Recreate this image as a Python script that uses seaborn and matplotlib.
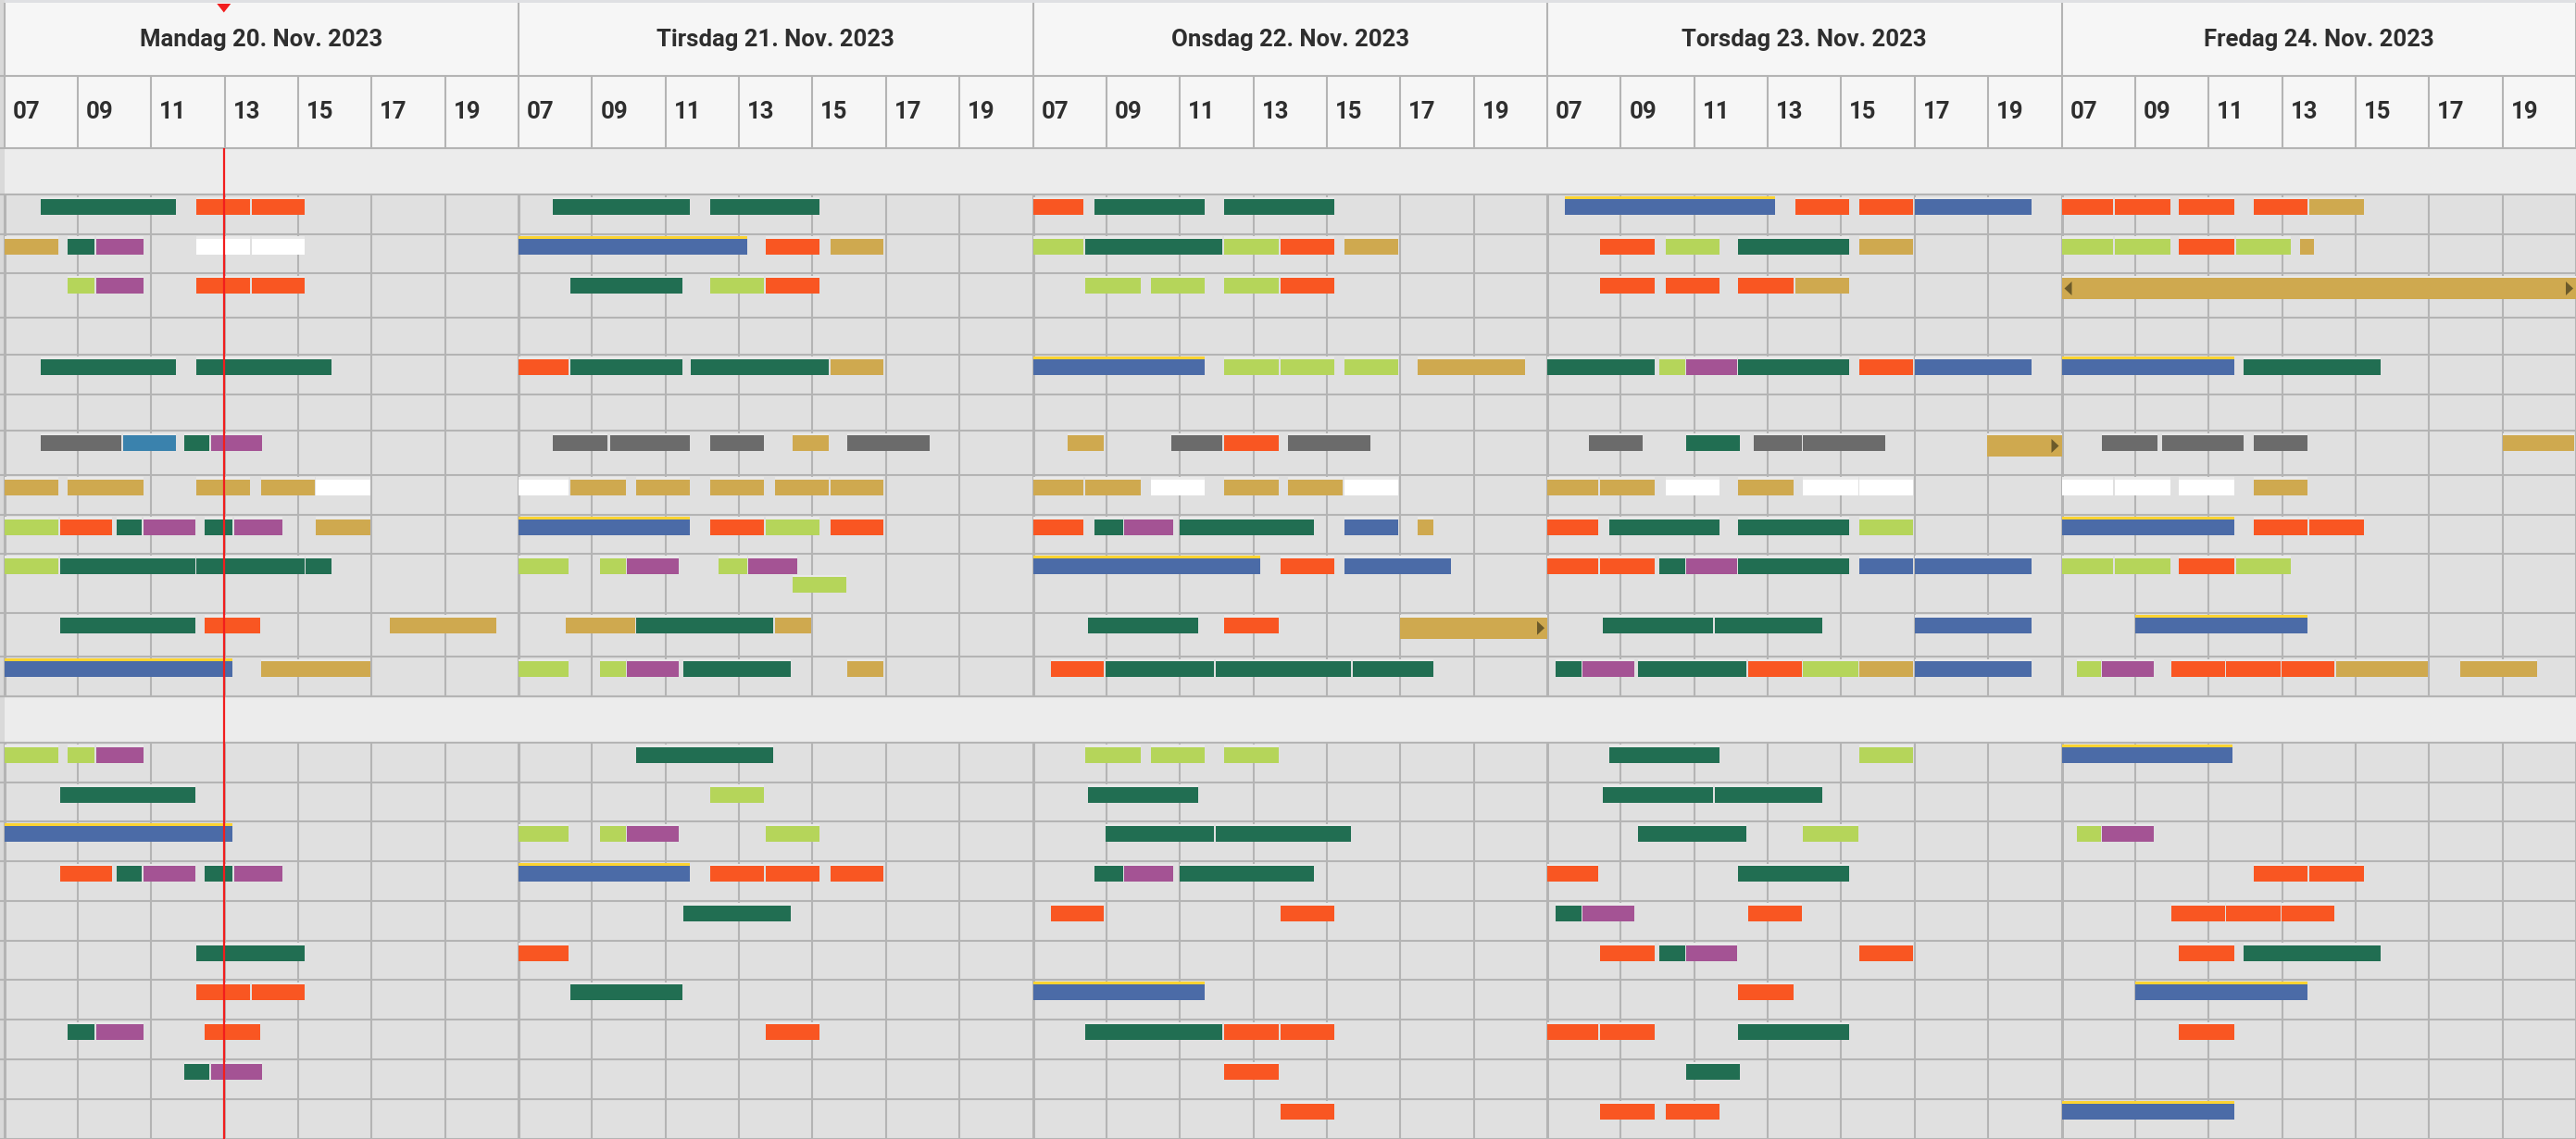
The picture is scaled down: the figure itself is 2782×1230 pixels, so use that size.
import pandas as pd
import seaborn as sns
import matplotlib.pyplot as plt
from matplotlib.patches import Polygon

sns.set_theme(style="white")
plt.rcParams['font.family'] = ['Roboto', 'DejaVu Sans']

# header texts
DAYS = ["Mandag 20. Nov. 2023", "Tirsdag 21. Nov. 2023", "Onsdag 22. Nov. 2023",
        "Torsdag 23. Nov. 2023", "Fredag 24. Nov. 2023"]
HOURS = ["07", "09", "11", "13", "15", "17", "19"]
DAY_START, DAY_END = 7, 21
NOW_DAY, NOW_HOUR = 0, 12.98

# bookings per day: (row, start, end, type[, lane])
# rows 0-11 first group, 12-21 second group
# G green, O orange, Y gold, P purple, L light green, B blue, F blue flagged,
# K gray, S steel blue, W white, R gold running on, D gold running both ways
MANDAG = [
    (0, 8.0, 11.67, 'G'), (0, 12.22, 13.69, 'O'), (0, 13.73, 15.19, 'O'),
    (1, 7.0, 8.47, 'Y'), (1, 8.73, 9.45, 'G'), (1, 9.5, 10.8, 'P'), (1, 12.22, 13.69, 'W'), (1, 13.73, 15.19, 'W'),
    (2, 8.73, 9.45, 'L'), (2, 9.5, 10.8, 'P'), (2, 12.22, 13.69, 'O'), (2, 13.73, 15.19, 'O'),
    (4, 8.0, 11.67, 'G'), (4, 12.22, 15.92, 'G'),
    (6, 8.0, 10.18, 'K'), (6, 10.24, 11.67, 'S'), (6, 11.9, 12.57, 'G'), (6, 12.63, 14.03, 'P'),
    (7, 7.0, 8.47, 'Y'), (7, 8.73, 10.8, 'Y'), (7, 12.22, 13.69, 'Y'), (7, 13.99, 15.45, 'Y'), (7, 15.49, 16.96, 'W'),
    (8, 7.0, 8.47, 'L'), (8, 8.53, 9.93, 'O'), (8, 10.06, 10.74, 'G'), (8, 10.79, 12.2, 'P'),
    (8, 12.45, 13.22, 'G'), (8, 13.26, 14.58, 'P'), (8, 15.49, 16.96, 'Y'),
    (9, 7.0, 8.47, 'L'), (9, 8.53, 12.2, 'G'), (9, 12.22, 15.19, 'G'), (9, 15.21, 15.92, 'G'),
    (10, 8.53, 12.2, 'G'), (10, 12.45, 13.96, 'O'), (10, 17.5, 20.4, 'Y'),
    (11, 7.0, 13.22, 'F'), (11, 13.99, 16.96, 'Y'),
    (12, 7.0, 8.47, 'L'), (12, 8.73, 9.45, 'L'), (12, 9.5, 10.8, 'P'),
    (13, 8.53, 12.2, 'G'),
    (14, 7.0, 13.22, 'F'),
    (15, 8.53, 9.93, 'O'), (15, 10.06, 10.74, 'G'), (15, 10.79, 12.2, 'P'), (15, 12.45, 13.22, 'G'), (15, 13.26, 14.58, 'P'),
    (17, 12.22, 15.19, 'G'),
    (18, 12.22, 13.69, 'O'), (18, 13.73, 15.19, 'O'),
    (19, 8.73, 9.45, 'G'), (19, 9.5, 10.8, 'P'), (19, 12.45, 13.96, 'O'),
    (20, 11.9, 12.57, 'G'), (20, 12.63, 14.03, 'P'),
]
TIRSDAG = [
    (0, 7.92, 11.65, 'G'), (0, 12.21, 15.19, 'G'),
    (1, 7.0, 13.22, 'F'), (1, 13.72, 15.19, 'O'), (1, 15.5, 16.93, 'Y'),
    (2, 8.4, 11.45, 'G'), (2, 12.21, 13.67, 'L'), (2, 13.72, 15.19, 'O'),
    (4, 7.0, 8.35, 'O'), (4, 8.4, 11.45, 'G'), (4, 11.7, 15.44, 'G'), (4, 15.5, 16.93, 'Y'),
    (6, 7.92, 9.43, 'K'), (6, 9.49, 11.65, 'K'), (6, 12.21, 13.67, 'K'), (6, 14.46, 15.44, 'Y'), (6, 15.94, 18.19, 'K'),
    (7, 7.0, 8.35, 'W'), (7, 8.4, 9.92, 'Y'), (7, 10.19, 11.65, 'Y'), (7, 12.21, 13.67, 'Y'),
    (7, 13.97, 15.44, 'Y'), (7, 15.5, 16.93, 'Y'),
    (8, 7.0, 11.65, 'F'), (8, 12.21, 13.67, 'O'), (8, 13.72, 15.19, 'L'), (8, 15.5, 16.93, 'O'),
    (9, 7.0, 8.35, 'L'), (9, 9.21, 9.92, 'L'), (9, 9.94, 11.35, 'P'), (9, 12.44, 13.22, 'L'),
    (9, 13.25, 14.59, 'P'), (9, 14.46, 15.92, 'L', 1),
    (10, 8.28, 10.17, 'Y'), (10, 10.19, 13.93, 'G'), (10, 13.97, 14.96, 'Y'),
    (11, 7.0, 8.35, 'L'), (11, 9.21, 9.92, 'L'), (11, 9.94, 11.35, 'P'), (11, 11.48, 14.4, 'G'), (11, 15.94, 16.93, 'Y'),
    (12, 10.19, 13.93, 'G'),
    (13, 12.21, 13.67, 'L'),
    (14, 7.0, 8.35, 'L'), (14, 9.21, 9.92, 'L'), (14, 9.94, 11.35, 'P'), (14, 13.72, 15.19, 'L'),
    (15, 7.0, 11.65, 'F'), (15, 12.21, 13.67, 'O'), (15, 13.72, 15.19, 'O'), (15, 15.5, 16.93, 'O'),
    (16, 11.48, 14.4, 'G'),
    (17, 7.0, 8.35, 'O'),
    (18, 8.4, 11.45, 'G'),
    (19, 13.72, 15.19, 'O'),
]
ONSDAG = [
    (0, 7.02, 8.37, 'O'), (0, 8.67, 11.68, 'G'), (0, 12.2, 15.2, 'G'),
    (1, 7.0, 8.37, 'L'), (1, 8.43, 12.15, 'G'), (1, 12.2, 13.69, 'L'), (1, 13.73, 15.2, 'O'), (1, 15.47, 16.94, 'Y'),
    (2, 8.43, 9.94, 'L'), (2, 10.21, 11.68, 'L'), (2, 12.2, 13.69, 'L'), (2, 13.73, 15.2, 'O'),
    (4, 7.0, 11.68, 'F'), (4, 12.2, 13.69, 'L'), (4, 13.73, 15.2, 'L'), (4, 15.47, 16.94, 'L'), (4, 17.46, 20.4, 'Y'),
    (6, 7.95, 8.93, 'Y'), (6, 10.77, 12.15, 'K'), (6, 12.2, 13.69, 'O'), (6, 13.94, 16.18, 'K'),
    (7, 7.0, 8.37, 'Y'), (7, 8.43, 9.94, 'Y'), (7, 10.21, 11.68, 'W'), (7, 12.2, 13.69, 'Y'),
    (7, 13.94, 15.44, 'Y'), (7, 15.47, 16.94, 'W'),
    (8, 7.0, 8.37, 'O'), (8, 8.67, 9.46, 'G'), (8, 9.48, 10.82, 'P'), (8, 10.99, 14.64, 'G'),
    (8, 15.47, 16.94, 'B'), (8, 17.46, 17.91, 'Y'),
    (9, 7.0, 13.18, 'F'), (9, 13.73, 15.2, 'O'), (9, 15.47, 18.39, 'B'),
    (10, 8.5, 11.49, 'G'), (10, 12.2, 13.69, 'O'), (10, 17.0, 21.0, 'R'),
    (11, 7.49, 8.93, 'O'), (11, 8.98, 11.92, 'G'), (11, 11.98, 15.65, 'G'), (11, 15.7, 17.91, 'G'),
    (12, 8.43, 9.94, 'L'), (12, 10.21, 11.68, 'L'), (12, 12.2, 13.69, 'L'),
    (13, 8.5, 11.49, 'G'),
    (14, 8.98, 11.92, 'G'), (14, 11.98, 15.65, 'G'),
    (15, 8.67, 9.46, 'G'), (15, 9.48, 10.82, 'P'), (15, 10.99, 14.64, 'G'),
    (16, 7.49, 8.93, 'O'), (16, 13.73, 15.2, 'O'),
    (18, 7.0, 11.68, 'F'),
    (19, 8.43, 12.15, 'G'), (19, 12.2, 13.69, 'O'), (19, 13.73, 15.2, 'O'),
    (20, 12.2, 13.69, 'O'),
    (21, 13.73, 15.2, 'O'),
]
TORSDAG = [
    (0, 7.47, 13.2, 'F'), (0, 13.75, 15.22, 'O'), (0, 15.5, 16.96, 'O'), (0, 17.0, 20.19, 'B'),
    (1, 8.43, 9.92, 'O'), (1, 10.22, 11.69, 'L'), (1, 12.19, 15.22, 'G'), (1, 15.5, 16.96, 'Y'),
    (2, 8.43, 9.92, 'O'), (2, 10.22, 11.69, 'O'), (2, 12.19, 13.71, 'O'), (2, 13.75, 15.22, 'Y'),
    (4, 7.0, 9.92, 'G'), (4, 10.05, 10.75, 'L'), (4, 10.78, 12.17, 'P'), (4, 12.19, 15.22, 'G'),
    (4, 15.5, 16.96, 'O'), (4, 17.0, 20.19, 'B'),
    (6, 8.13, 9.59, 'K'), (6, 10.78, 12.24, 'G'), (6, 12.61, 13.93, 'K'), (6, 13.95, 16.2, 'K'), (6, 18.98, 21.0, 'R'),
    (7, 7.0, 8.38, 'Y'), (7, 8.43, 9.92, 'Y'), (7, 10.22, 11.69, 'W'), (7, 12.19, 13.71, 'Y'),
    (7, 13.95, 15.47, 'W'), (7, 15.5, 16.96, 'W'),
    (8, 7.0, 8.38, 'O'), (8, 8.68, 11.69, 'G'), (8, 12.19, 15.22, 'G'), (8, 15.5, 16.96, 'L'),
    (9, 7.0, 8.38, 'O'), (9, 8.43, 9.92, 'O'), (9, 10.05, 10.75, 'G'), (9, 10.78, 12.17, 'P'),
    (9, 12.19, 15.22, 'G'), (9, 15.5, 16.96, 'B'), (9, 17.0, 20.19, 'B'),
    (10, 8.5, 11.5, 'G'), (10, 11.56, 14.49, 'G'), (10, 17.0, 20.19, 'B'),
    (11, 7.22, 7.93, 'G'), (11, 7.95, 9.37, 'P'), (11, 9.47, 12.41, 'G'), (11, 12.47, 13.93, 'O'),
    (11, 13.95, 15.47, 'L'), (11, 15.5, 16.96, 'Y'), (11, 17.0, 20.19, 'B'),
    (12, 8.68, 11.69, 'G'), (12, 15.5, 16.96, 'L'),
    (13, 8.5, 11.5, 'G'), (13, 11.56, 14.49, 'G'),
    (14, 9.47, 12.41, 'G'), (14, 13.95, 15.47, 'L'),
    (15, 7.0, 8.38, 'O'), (15, 12.19, 15.22, 'G'),
    (16, 7.22, 7.93, 'G'), (16, 7.95, 9.37, 'P'), (16, 12.47, 13.93, 'O'),
    (17, 8.43, 9.92, 'O'), (17, 10.05, 10.75, 'G'), (17, 10.78, 12.17, 'P'), (17, 15.5, 16.96, 'O'),
    (18, 12.19, 13.71, 'O'),
    (19, 7.0, 8.38, 'O'), (19, 8.43, 9.92, 'O'), (19, 12.19, 15.22, 'G'),
    (20, 10.78, 12.24, 'G'),
    (21, 8.43, 9.92, 'O'), (21, 10.22, 11.69, 'O'),
]
FREDAG = [
    (0, 7.0, 8.41, 'O'), (0, 8.45, 9.95, 'O'), (0, 10.2, 11.71, 'O'), (0, 12.22, 13.68, 'O'), (0, 13.73, 15.22, 'Y'),
    (1, 7.0, 8.41, 'L'), (1, 8.45, 9.95, 'L'), (1, 10.2, 11.71, 'O'), (1, 11.76, 13.23, 'L'), (1, 13.5, 13.86, 'Y'),
    (2, 7.0, 21.0, 'D'),
    (4, 7.0, 11.71, 'F'), (4, 11.96, 15.69, 'G'),
    (6, 8.1, 9.61, 'K'), (6, 9.74, 11.94, 'K'), (6, 12.22, 13.68, 'K'), (6, 19.0, 20.94, 'Y'),
    (7, 7.0, 8.41, 'W'), (7, 8.45, 9.95, 'W'), (7, 10.2, 11.71, 'W'), (7, 12.22, 13.68, 'Y'),
    (8, 7.0, 11.71, 'F'), (8, 12.22, 13.68, 'O'), (8, 13.73, 15.22, 'O'),
    (9, 7.0, 8.41, 'L'), (9, 8.45, 9.95, 'L'), (9, 10.2, 11.71, 'O'), (9, 11.76, 13.23, 'L'),
    (10, 9.0, 13.68, 'F'),
    (11, 7.42, 8.07, 'L'), (11, 8.1, 9.51, 'P'), (11, 9.99, 11.46, 'O'), (11, 11.48, 12.95, 'O'),
    (11, 12.99, 14.41, 'O'), (11, 14.46, 16.98, 'Y'), (11, 17.84, 19.93, 'Y'),
    (12, 7.0, 11.65, 'F'),
    (14, 7.42, 8.07, 'L'), (14, 8.1, 9.51, 'P'),
    (15, 12.22, 13.68, 'O'), (15, 13.73, 15.22, 'O'),
    (16, 9.99, 11.46, 'O'), (16, 11.48, 12.95, 'O'), (16, 12.99, 14.41, 'O'),
    (17, 10.2, 11.71, 'O'), (17, 11.96, 15.69, 'G'),
    (18, 9.0, 13.68, 'F'),
    (19, 10.2, 11.71, 'O'),
    (21, 7.0, 11.71, 'F'),
]

COLORS = {'G': '#216e52', 'O': '#f95622', 'Y': '#cfa94f', 'P': '#a45394', 'L': '#b5d55a',
          'B': '#4b6ba7', 'F': '#4b6ba7', 'K': '#6b6b6b', 'S': '#3a82ad', 'W': '#ffffff',
          'R': '#cfa94f', 'D': '#cfa94f'}

# layout (pixels of the 2782x1230 canvas)
W, H = 2782, 1230
PXH = 39.67          # pixels per hour
LEFT = 4.5
HDR_DAY, HDR_HOUR = 82, 160
GROUP_H = 50
ROWS_1 = [42.7, 42.3, 47.7, 40, 43, 39.3, 47.7, 43, 42, 64, 47.3, 42.7]
ROWS_2 = [42.8] * 10
GRID = '#b4b4b4'
SPAN = DAY_END - DAY_START
TOTAL = SPAN * len(DAYS)

# row tops
row_top, bands = [], []
y = HDR_HOUR
for heights in (ROWS_1, ROWS_2):
    bands.append((y, y + GROUP_H))
    y += GROUP_H
    g_start = y
    for h in heights:
        row_top.append(y)
        y += h
    bands.append((g_start, y))
group_rows, body_rows = bands[0::2], bands[1::2]

recs = []
for d, day in enumerate([MANDAG, TIRSDAG, ONSDAG, TORSDAG, FREDAG]):
    for bar in day:
        row, start, end, kind, *lane = bar
        recs.append(dict(x0=d * SPAN + start - DAY_START, w=end - start, kind=kind,
                         top=row_top[row] + 5 + (20.3 if lane else 0)))
df = pd.DataFrame(recs)
df['h'] = df['kind'].map(lambda k: 23 if k in 'RD' else 17)
df['color'] = df['kind'].map(COLORS)

fig = plt.figure(figsize=(W / 100, H / 100), dpi=100)
ax = fig.add_axes([0, 0, 1, 1])
fig.patch.set_facecolor('#e0e0e0')
ax.set_facecolor('#e0e0e0')
ax.set_xlim(-LEFT / PXH, TOTAL)
ax.set_ylim(H, 0)
ax.axis('off')

px = 1 / PXH
lw = 1.5

# header and group bands
ax.axhspan(0, HDR_HOUR, color='#f6f6f6', lw=0, zorder=0)
ax.axhspan(0, 3.3, color='#dfe0e3', lw=0, zorder=1)
for a, b in group_rows:
    ax.axhspan(a, b, color='#ececec', lw=0, zorder=0)
ax.axvspan(-LEFT / PXH, 0, color='#d9d9d9', lw=0, zorder=1)

# grid
ticks = [d * SPAN + k * 2 for d in range(len(DAYS)) for k in range(SPAN // 2)] + [TOTAL]
day_ticks = [d * SPAN for d in range(len(DAYS) + 1)]
ax.vlines(day_ticks, 3.3, HDR_DAY, color=GRID, lw=lw, zorder=2)
ax.vlines(ticks, HDR_DAY, HDR_HOUR, color=GRID, lw=lw, zorder=2)
for a, b in body_rows:
    ax.vlines(ticks, a, b, color=GRID, lw=lw, zorder=2)
    ax.vlines(day_ticks, a, b, color=GRID, lw=lw * 1.4, zorder=2)
lines = [HDR_DAY, HDR_HOUR] + row_top + [r[1] for r in body_rows] + [g[0] for g in group_rows[1:]]
ax.hlines(lines, -LEFT / PXH, TOTAL, color=GRID, lw=lw, zorder=2)

# bookings
flag = df['kind'] == 'F'
ax.barh(df.loc[~flag, 'top'] - 2.5, df.loc[~flag, 'w'], left=df.loc[~flag, 'x0'], height=2.5,
        align='edge', color='#e9e9e9', lw=0, zorder=3)
ax.barh(df.loc[flag, 'top'] - 3, df.loc[flag, 'w'], left=df.loc[flag, 'x0'], height=3,
        align='edge', color='#fbd332', lw=0, zorder=3)
ax.barh(df['top'], df['w'], left=df['x0'], height=df['h'], align='edge',
        color=df['color'], lw=0, zorder=4)

# run-on arrows
for _, r in df[df['kind'].isin(['R', 'D'])].iterrows():
    yc = r['top'] + r['h'] / 2
    x1 = r['x0'] + r['w']
    ax.add_patch(Polygon([(x1 - 11 * px, yc - 7.5), (x1 - 11 * px, yc + 7.5), (x1 - 3 * px, yc)],
                         color='#6b5a2a', lw=0, zorder=5))
    if r['kind'] == 'D':
        x0 = r['x0']
        ax.add_patch(Polygon([(x0 + 11 * px, yc - 7.5), (x0 + 11 * px, yc + 7.5), (x0 + 3 * px, yc)],
                             color='#6b5a2a', lw=0, zorder=5))

# now line
now_x = NOW_DAY * SPAN + NOW_HOUR - DAY_START
ax.vlines(now_x, HDR_HOUR, H, color='#f21d1d', lw=1.6, zorder=6)
ax.add_patch(Polygon([(now_x - 7.5 * px, 4), (now_x + 7.5 * px, 4), (now_x, 13.5)],
                     color='#f21d1d', lw=0, zorder=6))

# texts
for d, label in enumerate(DAYS):
    ax.text(d * SPAN + SPAN / 2, 43, label, ha='center', va='center', fontsize=18.5,
            fontweight='bold', color='#2e2e2e', zorder=7)
    for k, hl in enumerate(HOURS):
        ax.text(d * SPAN + 2 * k + 9 * px, 121, hl, ha='left', va='center', fontsize=18.5,
                fontweight='bold', color='#2e2e2e', zorder=7)

fig.savefig('out.png', dpi=100, facecolor=fig.get_facecolor())
